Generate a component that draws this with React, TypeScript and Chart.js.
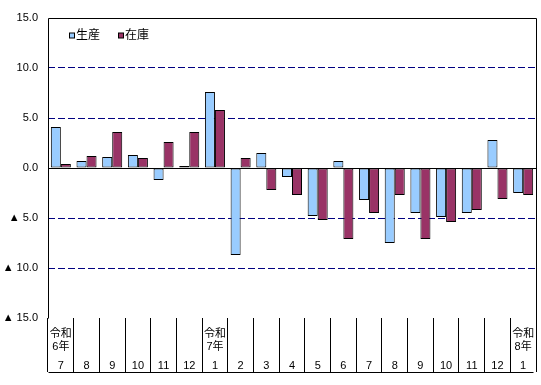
import React, { useEffect, useRef } from "react";
import { Chart, registerables } from "chart.js";

Chart.register(...registerables);

const months = ["7", "8", "9", "10", "11", "12", "1", "2", "3", "4", "5", "6", "7", "8", "9", "10", "11", "12", "1"];
const yearLabels = ["6年", "", "", "", "", "", "7年", "", "", "", "", "", "", "", "", "", "", "", "8年"];
const eraName = "令和";
const production = [4.1, 0.7, 1.1, 1.3, -1.2, 0.2, 7.6, -8.7, 1.5, -0.9, -4.8, 0.7, -3.2, -7.5, -4.5, -4.9, -4.5, 2.8, -2.5];
const inventory = [0.4, 1.2, 3.6, 1.0, 2.6, 3.6, 5.8, 1.0, -2.2, -2.7, -5.2, -7.1, -4.5, -2.7, -7.1, -5.4, -4.2, -3.1, -2.7];
const seriesNames = ["生産", "在庫"];
const seriesColors = ["#99CCFF", "#993366"];
const yMin = -15;
const yMax = 15;
const yStep = 5;

const FONT = "'Liberation Sans', 'Noto Sans CJK JP', sans-serif";

export default function App() {
  const ref = useRef<HTMLCanvasElement | null>(null);

  useEffect(() => {
    if (!ref.current) return;
    const labels = months.map((m, i) =>
      yearLabels[i] ? [eraName, "", yearLabels[i], "", "", m] : ["", "", "", "", "", m]
    );

    const framePlugin = {
      id: "frame",
      afterDatasetsDraw(chart: any) {
        const { ctx, chartArea } = chart;
        const xs = chart.scales.x;
        ctx.save();
        ctx.strokeStyle = "#000";
        ctx.lineWidth = 1;
        ctx.setLineDash([]);
        const y0 = Math.round(chart.scales.y.getPixelForValue(0)) + 0.5;
        ctx.beginPath();
        ctx.moveTo(chartArea.left, y0);
        ctx.lineTo(chartArea.right, y0);
        ctx.stroke();
        const l = Math.round(chartArea.left) + 0.5;
        const r = Math.round(chartArea.right) + 0.5;
        const t = Math.round(chartArea.top) + 0.5;
        const b = Math.round(chartArea.bottom) + 0.5;
        ctx.beginPath();
        ctx.moveTo(l, b);
        ctx.lineTo(l, t);
        ctx.lineTo(r, t);
        ctx.lineTo(r, b + 17);
        ctx.stroke();
        const tb = Math.round(xs.bottom) - 0.5;
        ctx.beginPath();
        ctx.moveTo(l, tb);
        ctx.lineTo(r - 3, tb);
        ctx.stroke();
        ctx.font = "12px " + FONT;
        ctx.textBaseline = "middle";
        ctx.textAlign = "left";
        const lx = [69, 118];
        const ly = 35.5;
        seriesNames.forEach((name, i) => {
          ctx.fillStyle = seriesColors[i];
          ctx.fillRect(lx[i] + 0.5, ly - 2.5, 5, 5);
          ctx.strokeStyle = "#000";
          ctx.strokeRect(lx[i] + 0.5, ly - 2.5, 5, 5);
          ctx.fillStyle = "#000";
          ctx.fillText(name, lx[i] + 7, ly);
        });
        ctx.restore();
      },
    };

    const chart = new Chart(ref.current, {
      type: "bar",
      data: {
        labels,
        datasets: [
          {
            label: seriesNames[0],
            data: production,
            backgroundColor: seriesColors[0],
            borderColor: "#000",
            borderWidth: 1,
            borderSkipped: false,
          },
          {
            label: seriesNames[1],
            data: inventory,
            backgroundColor: seriesColors[1],
            borderColor: "#000",
            borderWidth: 1,
            borderSkipped: false,
          },
        ],
      },
      options: {
        animation: false,
        responsive: false,
        maintainAspectRatio: false,
        layout: { padding: { left: 0, right: 5, top: 18, bottom: 12 } },
        datasets: { bar: { categoryPercentage: 0.78, barPercentage: 1.0 } },
        plugins: { legend: { display: false }, tooltip: { enabled: false } },
        scales: {
          x: {
            grid: {
              offset: true,
              drawOnChartArea: false,
              drawTicks: true,
              tickLength: 54,
              color: (c: any) => (c.index === months.length ? "rgba(0,0,0,0)" : "#000"),
              lineWidth: 1,
            },
            border: { display: false },
            ticks: {
              autoSkip: false,
              maxRotation: 0,
              minRotation: 0,
              padding: -41.5,
              color: "#000",
              font: { family: FONT, size: 11, lineHeight: "6.5px" },
            },
            afterFit: (s: any) => {
              s.height = 55;
            },
          },
          y: {
            min: yMin,
            max: yMax,
            grid: {
              drawTicks: false,
              color: (c: any) => {
                const v = c.tick ? c.tick.value : 0;
                return v === 0 || Math.abs(v) === 15 ? "rgba(0,0,0,0)" : "#000080";
              },
              lineWidth: 1,
            },
            border: { display: false, dash: [7, 3] },
            ticks: {
              stepSize: yStep,
              padding: 10,
              color: "#000",
              font: { family: FONT, size: 11 },
              callback: (v: any) => (v < 0 ? "▲ " + Math.abs(v).toFixed(1) : Number(v).toFixed(1)),
            },
            afterFit: (s: any) => {
              s.width = 48;
            },
          },
        },
      },
      plugins: [framePlugin],
    });
    return () => chart.destroy();
  }, []);

  return (
    <div style={{ position: "fixed", left: 0, top: 0, width: 541, height: 385, background: "#fff" }}>
      <canvas ref={ref} width={541} height={385} style={{ width: 541, height: 385, display: "block" }} />
    </div>
  );
}
